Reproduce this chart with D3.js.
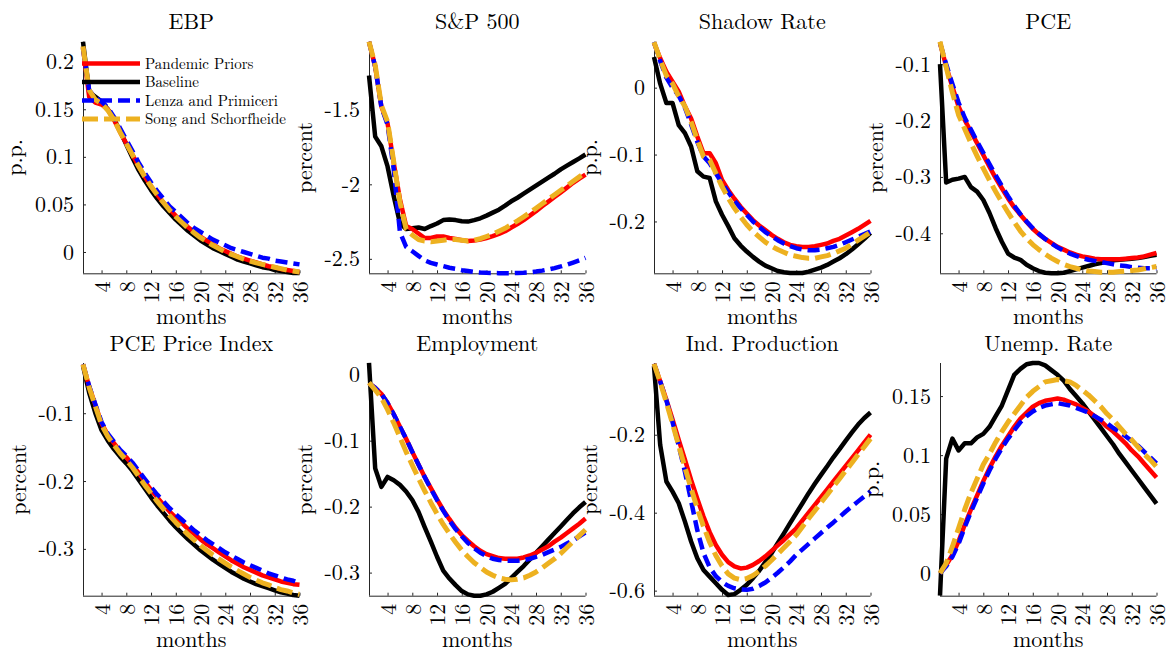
<!DOCTYPE html>
<html>
<head>
<meta charset="utf-8">
<script src="https://cdn.jsdelivr.net/npm/d3@7"></script>
<style>
body { margin: 0; background: #fff; }
svg text { font-family: "Latin Modern Roman", "Liberation Serif", serif; fill: #000; }
</style>
</head>
<body>
<svg id="chart" width="1169" height="652" font-family="Latin Modern Roman, Liberation Serif, serif"></svg>
<script>
// horizon in months
var months = [1,2,3,4,5,6,7,8,9,10,11,12,13,14,15,16,17,18,19,20,21,22,23,24,25,26,27,28,29,30,31,32,33,34,35,36];
var monthTicks = [4,8,12,16,20,24,28,32,36];

var seriesNames = ["Pandemic Priors", "Baseline", "Lenza and Primiceri", "Song and Schorfheide"];

// EBP
var ebpPandemic = [0.215,0.163,0.157,0.155,0.150,0.139,0.126,0.114,0.102,0.090,0.079,0.069,0.060,0.052,0.045,0.038,0.032,0.026,0.021,0.016,0.012,0.008,0.004,0.001,-0.002,-0.005,-0.007,-0.009,-0.011,-0.013,-0.015,-0.016,-0.018,-0.019,-0.020,-0.021];
var ebpBaseline = [0.221,0.168,0.163,0.158,0.150,0.140,0.127,0.113,0.099,0.086,0.075,0.065,0.056,0.048,0.041,0.034,0.028,0.022,0.017,0.012,0.008,0.004,0.001,-0.002,-0.005,-0.008,-0.010,-0.012,-0.014,-0.016,-0.017,-0.019,-0.020,-0.021,-0.022,-0.022];
var ebpLenza = [0.214,0.170,0.162,0.158,0.152,0.142,0.130,0.118,0.106,0.094,0.083,0.073,0.064,0.056,0.048,0.042,0.036,0.030,0.025,0.021,0.017,0.013,0.010,0.007,0.004,0.002,0.000,-0.002,-0.004,-0.006,-0.007,-0.009,-0.010,-0.011,-0.012,-0.013];
var ebpSong = [0.216,0.170,0.160,0.156,0.149,0.139,0.126,0.114,0.102,0.090,0.079,0.069,0.060,0.052,0.044,0.037,0.031,0.025,0.020,0.015,0.011,0.007,0.0035,0.0,-0.0025,-0.005,-0.0075,-0.0095,-0.0115,-0.013,-0.0145,-0.016,-0.0175,-0.019,-0.020,-0.021];

// S&P 500
var spPandemic = [-1.043,-1.21,-1.478,-1.59,-1.857,-2.10,-2.28,-2.30,-2.33,-2.36,-2.36,-2.35,-2.35,-2.36,-2.366,-2.375,-2.38,-2.377,-2.37,-2.36,-2.348,-2.333,-2.315,-2.29,-2.266,-2.24,-2.21,-2.18,-2.147,-2.116,-2.085,-2.054,-2.022,-1.99,-1.962,-1.935];
var spBaseline = [-1.27,-1.68,-1.745,-1.88,-2.08,-2.26,-2.30,-2.295,-2.29,-2.30,-2.28,-2.263,-2.24,-2.236,-2.24,-2.248,-2.25,-2.24,-2.228,-2.21,-2.19,-2.17,-2.143,-2.114,-2.09,-2.063,-2.036,-2.009,-1.982,-1.955,-1.929,-1.90,-1.875,-1.85,-1.826,-1.80];
var spLenza = [-1.043,-1.21,-1.48,-1.60,-1.90,-2.32,-2.42,-2.449,-2.48,-2.51,-2.527,-2.538,-2.549,-2.56,-2.567,-2.576,-2.582,-2.588,-2.592,-2.594,-2.595,-2.596,-2.596,-2.596,-2.595,-2.593,-2.59,-2.585,-2.579,-2.571,-2.562,-2.551,-2.539,-2.525,-2.51,-2.493];
var spSong = [-1.043,-1.20,-1.47,-1.58,-1.85,-2.12,-2.30,-2.34,-2.37,-2.38,-2.385,-2.38,-2.375,-2.37,-2.37,-2.375,-2.38,-2.375,-2.365,-2.35,-2.335,-2.315,-2.295,-2.27,-2.245,-2.218,-2.19,-2.16,-2.13,-2.10,-2.07,-2.04,-2.01,-1.98,-1.95,-1.92];

// Shadow Rate
var shPandemic = [0.067,0.044,0.024,0.009,-0.006,-0.028,-0.046,-0.073,-0.098,-0.098,-0.113,-0.138,-0.153,-0.166,-0.178,-0.188,-0.198,-0.206,-0.213,-0.220,-0.226,-0.231,-0.235,-0.237,-0.238,-0.238,-0.237,-0.235,-0.233,-0.229,-0.226,-0.221,-0.216,-0.211,-0.205,-0.199];
var shBaseline = [0.046,0.006,-0.023,-0.023,-0.056,-0.068,-0.088,-0.125,-0.133,-0.135,-0.170,-0.190,-0.207,-0.225,-0.236,-0.245,-0.253,-0.260,-0.266,-0.270,-0.274,-0.276,-0.277,-0.277,-0.277,-0.275,-0.272,-0.269,-0.265,-0.260,-0.255,-0.249,-0.242,-0.234,-0.226,-0.217];
var shLenza = [0.068,0.040,0.015,0.000,-0.012,-0.030,-0.055,-0.081,-0.103,-0.113,-0.128,-0.143,-0.156,-0.169,-0.180,-0.190,-0.200,-0.208,-0.216,-0.222,-0.228,-0.233,-0.237,-0.240,-0.242,-0.243,-0.243,-0.242,-0.240,-0.238,-0.235,-0.231,-0.227,-0.223,-0.219,-0.215];
var shSong = [0.068,0.042,0.018,0.006,-0.013,-0.028,-0.051,-0.078,-0.103,-0.108,-0.128,-0.148,-0.165,-0.180,-0.193,-0.205,-0.215,-0.223,-0.231,-0.237,-0.242,-0.246,-0.250,-0.252,-0.254,-0.255,-0.255,-0.253,-0.251,-0.248,-0.244,-0.240,-0.234,-0.228,-0.222,-0.216];

// PCE
var pcePandemic = [-0.062,-0.104,-0.140,-0.175,-0.199,-0.220,-0.240,-0.261,-0.282,-0.302,-0.320,-0.338,-0.354,-0.367,-0.380,-0.392,-0.402,-0.410,-0.417,-0.424,-0.429,-0.434,-0.438,-0.441,-0.443,-0.445,-0.446,-0.446,-0.446,-0.446,-0.445,-0.444,-0.443,-0.441,-0.438,-0.435];
var pceBaseline = [-0.100,-0.310,-0.305,-0.303,-0.300,-0.318,-0.326,-0.341,-0.364,-0.391,-0.415,-0.436,-0.443,-0.447,-0.456,-0.462,-0.467,-0.470,-0.471,-0.471,-0.470,-0.467,-0.464,-0.461,-0.458,-0.455,-0.453,-0.450,-0.448,-0.447,-0.446,-0.445,-0.444,-0.442,-0.440,-0.438];
var pceLenza = [-0.062,-0.100,-0.135,-0.168,-0.195,-0.216,-0.237,-0.257,-0.277,-0.297,-0.316,-0.334,-0.351,-0.366,-0.379,-0.391,-0.401,-0.410,-0.418,-0.425,-0.431,-0.436,-0.440,-0.444,-0.447,-0.449,-0.451,-0.453,-0.455,-0.457,-0.458,-0.460,-0.461,-0.462,-0.462,-0.462];
var pceSong = [-0.060,-0.105,-0.150,-0.190,-0.215,-0.240,-0.263,-0.285,-0.306,-0.326,-0.345,-0.363,-0.380,-0.396,-0.409,-0.420,-0.429,-0.437,-0.444,-0.450,-0.455,-0.459,-0.462,-0.465,-0.467,-0.468,-0.469,-0.469,-0.469,-0.468,-0.467,-0.466,-0.465,-0.463,-0.461,-0.459];

// PCE Price Index
var ppPandemic = [-0.028,-0.061,-0.088,-0.115,-0.132,-0.144,-0.156,-0.165,-0.176,-0.188,-0.201,-0.213,-0.224,-0.235,-0.245,-0.254,-0.262,-0.271,-0.278,-0.286,-0.293,-0.299,-0.305,-0.311,-0.317,-0.322,-0.327,-0.331,-0.335,-0.339,-0.342,-0.345,-0.348,-0.350,-0.352,-0.353];
var ppBaseline = [-0.030,-0.070,-0.100,-0.125,-0.140,-0.153,-0.164,-0.174,-0.185,-0.198,-0.211,-0.224,-0.236,-0.247,-0.258,-0.268,-0.277,-0.286,-0.294,-0.302,-0.309,-0.316,-0.322,-0.328,-0.334,-0.339,-0.344,-0.348,-0.352,-0.355,-0.358,-0.361,-0.364,-0.366,-0.368,-0.369];
var ppLenza = [-0.028,-0.060,-0.087,-0.113,-0.130,-0.142,-0.154,-0.163,-0.173,-0.185,-0.197,-0.209,-0.220,-0.230,-0.240,-0.249,-0.257,-0.265,-0.273,-0.280,-0.287,-0.293,-0.299,-0.305,-0.310,-0.315,-0.320,-0.324,-0.328,-0.332,-0.336,-0.339,-0.342,-0.345,-0.347,-0.350];
var ppSong = [-0.028,-0.062,-0.090,-0.117,-0.134,-0.147,-0.159,-0.169,-0.180,-0.193,-0.206,-0.218,-0.230,-0.241,-0.251,-0.261,-0.270,-0.279,-0.287,-0.295,-0.302,-0.309,-0.315,-0.321,-0.327,-0.332,-0.337,-0.342,-0.346,-0.350,-0.353,-0.357,-0.360,-0.362,-0.365,-0.367];

// Employment
var empPandemic = [-0.013,-0.020,-0.029,-0.043,-0.060,-0.079,-0.097,-0.117,-0.136,-0.155,-0.172,-0.189,-0.205,-0.219,-0.232,-0.243,-0.252,-0.260,-0.267,-0.272,-0.275,-0.278,-0.279,-0.279,-0.279,-0.277,-0.274,-0.270,-0.265,-0.260,-0.253,-0.247,-0.240,-0.233,-0.226,-0.218];
var empBaseline = [0.018,-0.142,-0.170,-0.155,-0.160,-0.167,-0.177,-0.190,-0.208,-0.231,-0.253,-0.276,-0.297,-0.309,-0.319,-0.328,-0.333,-0.335,-0.335,-0.333,-0.329,-0.323,-0.317,-0.308,-0.299,-0.290,-0.280,-0.270,-0.260,-0.250,-0.240,-0.230,-0.220,-0.210,-0.201,-0.193];
var empLenza = [-0.013,-0.020,-0.029,-0.043,-0.060,-0.079,-0.097,-0.117,-0.136,-0.155,-0.173,-0.190,-0.206,-0.221,-0.234,-0.245,-0.255,-0.263,-0.270,-0.275,-0.279,-0.281,-0.282,-0.282,-0.282,-0.281,-0.279,-0.276,-0.273,-0.269,-0.265,-0.261,-0.256,-0.251,-0.245,-0.239];
var empSong = [-0.012,-0.023,-0.035,-0.053,-0.073,-0.095,-0.117,-0.137,-0.157,-0.176,-0.194,-0.211,-0.227,-0.241,-0.254,-0.266,-0.276,-0.285,-0.292,-0.299,-0.304,-0.308,-0.310,-0.311,-0.310,-0.308,-0.304,-0.299,-0.293,-0.286,-0.279,-0.271,-0.262,-0.253,-0.244,-0.235];

// Ind. Production
var ipPandemic = [-0.018,-0.063,-0.110,-0.161,-0.213,-0.264,-0.316,-0.364,-0.410,-0.450,-0.483,-0.508,-0.527,-0.538,-0.543,-0.541,-0.534,-0.524,-0.512,-0.498,-0.484,-0.470,-0.455,-0.440,-0.420,-0.400,-0.380,-0.360,-0.340,-0.320,-0.300,-0.280,-0.260,-0.240,-0.220,-0.200];
var ipBaseline = [-0.024,-0.226,-0.320,-0.346,-0.376,-0.423,-0.474,-0.517,-0.547,-0.564,-0.581,-0.598,-0.611,-0.609,-0.598,-0.585,-0.568,-0.549,-0.527,-0.504,-0.478,-0.453,-0.427,-0.401,-0.376,-0.350,-0.326,-0.303,-0.281,-0.258,-0.237,-0.215,-0.194,-0.174,-0.157,-0.143];
var ipLenza = [-0.018,-0.063,-0.112,-0.168,-0.228,-0.295,-0.370,-0.445,-0.503,-0.540,-0.563,-0.578,-0.588,-0.594,-0.597,-0.598,-0.595,-0.588,-0.579,-0.567,-0.554,-0.540,-0.525,-0.508,-0.494,-0.480,-0.466,-0.452,-0.438,-0.425,-0.411,-0.397,-0.384,-0.371,-0.358,-0.345];
var ipSong = [-0.018,-0.065,-0.117,-0.172,-0.228,-0.284,-0.338,-0.389,-0.435,-0.476,-0.510,-0.537,-0.557,-0.568,-0.572,-0.569,-0.561,-0.550,-0.537,-0.522,-0.506,-0.490,-0.474,-0.457,-0.436,-0.415,-0.395,-0.374,-0.354,-0.333,-0.313,-0.292,-0.272,-0.251,-0.231,-0.210];

// Unemp. Rate
var unPandemic = [0.000,0.007,0.0155,0.027,0.041,0.054,0.066,0.078,0.089,0.099,0.108,0.116,0.124,0.131,0.136,0.141,0.144,0.146,0.147,0.148,0.147,0.145,0.143,0.140,0.137,0.133,0.129,0.124,0.120,0.115,0.110,0.104,0.099,0.093,0.087,0.081];
var unBaseline = [-0.019,0.097,0.114,0.104,0.110,0.110,0.115,0.118,0.124,0.133,0.142,0.155,0.168,0.173,0.177,0.178,0.178,0.176,0.172,0.168,0.163,0.156,0.150,0.144,0.137,0.130,0.123,0.116,0.109,0.101,0.094,0.087,0.080,0.073,0.066,0.059];
var unLenza = [0.000,0.006,0.014,0.025,0.039,0.052,0.064,0.076,0.087,0.097,0.106,0.114,0.121,0.128,0.133,0.137,0.140,0.142,0.143,0.144,0.143,0.142,0.140,0.138,0.136,0.133,0.130,0.127,0.123,0.120,0.116,0.112,0.108,0.103,0.098,0.093];
var unSong = [0.000,0.0085,0.0225,0.038,0.054,0.068,0.080,0.092,0.101,0.111,0.120,0.128,0.135,0.142,0.149,0.154,0.158,0.162,0.163,0.164,0.163,0.162,0.159,0.155,0.151,0.146,0.141,0.135,0.130,0.124,0.118,0.113,0.107,0.101,0.096,0.090];

var panels = [
	{ title: "EBP", ylabel: "p.p.", yDomain: [-0.0224, 0.221], yTicks: [0, 0.05, 0.1, 0.15, 0.2], data: [ebpPandemic, ebpBaseline, ebpLenza, ebpSong] },
	{ title: "S&P 500", ylabel: "percent", yDomain: [-2.597, -1.043], yTicks: [-2.5, -2, -1.5], data: [spPandemic, spBaseline, spLenza, spSong] },
	{ title: "Shadow Rate", ylabel: "p.p.", yDomain: [-0.2775, 0.0687], yTicks: [-0.2, -0.1, 0], data: [shPandemic, shBaseline, shLenza, shSong] },
	{ title: "PCE", ylabel: "percent", yDomain: [-0.471, -0.060], yTicks: [-0.4, -0.3, -0.2, -0.1], data: [pcePandemic, pceBaseline, pceLenza, pceSong] },
	{ title: "PCE Price Index", ylabel: "percent", yDomain: [-0.369, -0.026], yTicks: [-0.3, -0.2, -0.1], data: [ppPandemic, ppBaseline, ppLenza, ppSong] },
	{ title: "Employment", ylabel: "percent", yDomain: [-0.335, 0.0177], yTicks: [-0.3, -0.2, -0.1, 0], data: [empPandemic, empBaseline, empLenza, empSong] },
	{ title: "Ind. Production", ylabel: "percent", yDomain: [-0.613, -0.016], yTicks: [-0.6, -0.4, -0.2], data: [ipPandemic, ipBaseline, ipLenza, ipSong] },
	{ title: "Unemp. Rate", ylabel: "p.p.", yDomain: [-0.019, 0.178], yTicks: [0, 0.05, 0.1, 0.15], data: [unPandemic, unBaseline, unLenza, unSong] }
];

// line styles, same order as seriesNames
var styles = [
	{ color: "#ff0000", width: 4.5, dash: null },
	{ color: "#000000", width: 4.5, dash: null },
	{ color: "#0000ff", width: 4.5, dash: "12,6" },
	{ color: "#edb120", width: 5, dash: "16,6" }
];
var drawOrder = [1, 0, 2, 3];

var colLeft = [83, 369, 654, 940], plotW = 216.5;
var rowTop = [41.7, 363], plotH = [231.6, 232.7];
var axisColor = "#262626";
var fontFam = "'Latin Modern Roman', 'Liberation Serif', serif";

var svg = d3.select("#chart");

panels.forEach(function(p, i) {
	var col = i % 4, row = Math.floor(i / 4);
	var L = colLeft[col], T = rowTop[row], R = L + plotW, B = T + plotH[row];
	var x = d3.scaleLinear().domain([1, 36]).range([L, R]);
	var y = d3.scaleLinear().domain(p.yDomain).range([B, T]);
	var g = svg.append("g").attr("class", "panel");

	var yAxis = g.append("g")
		.attr("transform", "translate(" + L + ",0)")
		.call(d3.axisLeft(y).tickValues(p.yTicks).tickSizeInner(-3).tickSizeOuter(0).tickPadding(9)
			.tickFormat(function(d) { return String(d); }));
	yAxis.attr("font-family", fontFam).attr("font-size", 22).attr("color", axisColor);
	yAxis.select(".domain").attr("d", "M0.5," + T + "V" + B);
	yAxis.selectAll("text").style("font-family", fontFam).style("font-size", "22px").style("fill", "#000");

	var xAxis = g.append("g")
		.attr("transform", "translate(0," + B + ")")
		.call(d3.axisBottom(x).tickValues(monthTicks).tickSizeInner(-3).tickSizeOuter(0));
	xAxis.attr("font-family", fontFam).attr("font-size", 22).attr("color", axisColor);
	xAxis.select(".domain").attr("d", "M" + L + ",0.5H" + R);
	xAxis.selectAll("text")
		.attr("transform", "rotate(-90)")
		.attr("text-anchor", "end")
		.attr("x", -8).attr("y", 0).attr("dy", "0.35em")
		.style("font-family", fontFam).style("font-size", "22px").style("fill", "#000");

	// y label sits left of the widest tick label
	var minX = d3.min(yAxis.selectAll("text").nodes(), function(n) { return n.getBBox().x; }) + L;
	g.append("text")
		.attr("transform", "translate(" + (minX - 13) + "," + ((T + B) / 2) + ") rotate(-90)")
		.attr("text-anchor", "middle")
		.style("font-family", fontFam)
		.style("font-size", "22px")
		.text(p.ylabel);

	g.append("text")
		.attr("x", (L + R) / 2).attr("y", T - 12.5)
		.attr("text-anchor", "middle")
		.style("font-family", fontFam)
		.style("font-size", "22px")
		.text(p.title);

	g.append("text")
		.attr("x", (L + R) / 2).attr("y", B + 51)
		.attr("text-anchor", "middle")
		.style("font-family", fontFam)
		.style("font-size", "22px")
		.text("months");

	var line = d3.line()
		.x(function(d, j) { return x(months[j]); })
		.y(function(d) { return y(d); });

	drawOrder.forEach(function(k) {
		g.append("path")
			.datum(p.data[k])
			.attr("fill", "none")
			.attr("stroke", styles[k].color)
			.attr("stroke-width", styles[k].width)
			.attr("stroke-dasharray", styles[k].dash)
			.attr("stroke-linejoin", "round")
			.attr("d", line);
	});
});

// legend, no box, upper left of the first panel
var legend = svg.append("g").attr("class", "legend");
var legendY = [63.5, 82, 100.5, 119];
seriesNames.forEach(function(name, k) {
	legend.append("line")
		.attr("x1", 82).attr("x2", 140)
		.attr("y1", legendY[k]).attr("y2", legendY[k])
		.attr("stroke", styles[k].color)
		.attr("stroke-width", styles[k].width)
		.attr("stroke-dasharray", styles[k].dash);
	legend.append("text")
		.attr("x", 145).attr("y", legendY[k]).attr("dy", "0.35em")
		.style("font-family", fontFam)
		.style("font-size", "15px")
		.text(name);
});
</script>
</body>
</html>
